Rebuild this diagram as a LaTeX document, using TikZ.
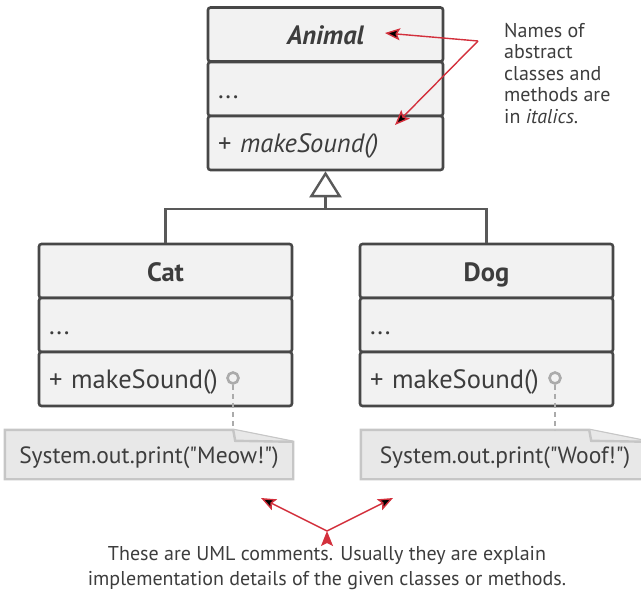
\documentclass[tikz,border=0pt]{standalone}
\usepackage{fontspec}
\setmainfont{PT Sans}
\usepackage{tikz}
\usetikzlibrary{arrows.meta,backgrounds}

\definecolor{ink}{HTML}{3D3D3D}
\definecolor{boxline}{HTML}{474747}
\definecolor{boxfill}{HTML}{F2F2F2}
\definecolor{notefill}{HTML}{E8E8E8}
\definecolor{noteline}{HTML}{C6C6C6}
\definecolor{pinline}{HTML}{ABABAB}
\definecolor{hint}{HTML}{D3303C}

\newcommand{\dq}{\textquotedbl}

\tikzset{
	part/.style={draw=boxline, fill=boxfill, line width=2.6pt, rounded corners=2.5pt,
		inner xsep=10pt, inner ysep=0pt, minimum height=54pt, text height=18pt, text depth=0pt,
		align=left, text=ink, font=\fontsize{26.5}{30}\selectfont},
	title/.style={part, align=center, text height=20pt, font=\fontsize{26.5}{30}\selectfont\bfseries},
	base/.style={text width=215pt},
	sub/.style={text width=233pt},
	pin/.style={circle, draw=pinline, fill=boxfill, line width=2.6pt, minimum size=11pt, inner sep=0pt},
	note/.style={minimum width=288pt, minimum height=49pt, inner sep=0pt, text=ink,
		text height=17pt, text depth=0pt, font=\fontsize{23.5}{27}\selectfont},
	noteedge/.style={draw=noteline, fill=notefill, line width=2.4pt},
	remark/.style={text=ink, inner sep=0pt},
	gen/.style={draw=boxline!90, line width=2.4pt},
	hintarrow/.style={draw=hint, line width=1.4pt, -{Stealth[length=15pt,width=12pt,inset=3pt]}}
}

\begin{document}
\begin{tikzpicture}[x=1pt,y=-1pt]
	\clip (0,0) rectangle (641,590);
	% classes
	\node[title,base] (animalHead) at (325.5,34.5) {\itshape Animal};
	\node[part,base] (animalAttr) at (325.5,89) {...};
	\node[part,base] (animalOps) at (325.5,143) {+ \textit{makeSound()}};
	\node[title,sub] (catHead) at (165.5,271) {Cat};
	\node[part,sub] (catAttr) at (165.5,325) {...};
	\node[part,sub] (catOps) at (165.5,379) {+ makeSound()};
	\node[title,sub] (dogHead) at (486.5,271) {Dog};
	\node[part,sub] (dogAttr) at (486.5,325) {...};
	\node[part,sub] (dogOps) at (486.5,379) {+ makeSound()};
	%
	\coordinate (split) at (325.5,209);
	\draw[gen] (catHead.north) |- (split) -| (dogHead.north);
	\draw[gen,-{Triangle[open,length=26pt,width=32pt]}] (split) -- (animalOps.south);
	% comments
	\node[pin] (catPin) at (233,378) {};
	\node[pin] (dogPin) at (555,378) {};
	\node[note] (catNote) at (149,454.5) {System.out.print(\dq Meow!\dq)};
	\node[note] (dogNote) at (505,454.5) {System.out.print(\dq Woof!\dq)};
	\begin{scope}[on background layer]
		\draw[noteedge] (catNote.south west) |- ([xshift=-60pt]catNote.north east)
			-- ([yshift=-12pt]catNote.north east) |- cycle;
		\draw[noteedge] ([xshift=-60pt]catNote.north east) -- ++(2,11) -- ([yshift=-12pt]catNote.north east);
		\draw[noteedge] (dogNote.south west) |- ([xshift=-60pt]dogNote.north east)
			-- ([yshift=-12pt]dogNote.north east) |- cycle;
		\draw[noteedge] ([xshift=-60pt]dogNote.north east) -- ++(2,11) -- ([yshift=-12pt]dogNote.north east);
	\end{scope}
	\draw[pinline,line width=2pt,dashed,dash pattern=on 5pt off 4pt] (catPin.south) -- (catNote.north -| catPin);
	\draw[pinline,line width=2pt,dashed,dash pattern=on 5pt off 4pt] (dogPin.south) -- (dogNote.north -| dogPin);
	% remarks
	\node[remark,anchor=north west,align=left,font=\fontsize{20}{21.5}\selectfont] (names) at (504,23)
		{Names of\\abstract\\classes and\\methods are\\in \textit{italics}.};
	\node[remark,align=center,font=\fontsize{20}{25}\selectfont] (comments) at (327,568)
		{These are UML comments. Usually they are explain\\implementation details of the given classes or methods.};
	%
	\coordinate (namesTip) at (478,41);
	\coordinate (animalMark) at (385,33);
	\coordinate (opsMark) at (395,125);
	\coordinate (commentsTip) at (327,531);
	\coordinate (catMark) at (261,498);
	\coordinate (dogMark) at (393,498);
	\path[hintarrow]
	(namesTip) edge (animalMark)
	(namesTip) edge (opsMark)
	(commentsTip) edge (catMark)
	(commentsTip) edge (dogMark);
\end{tikzpicture}
\end{document}
